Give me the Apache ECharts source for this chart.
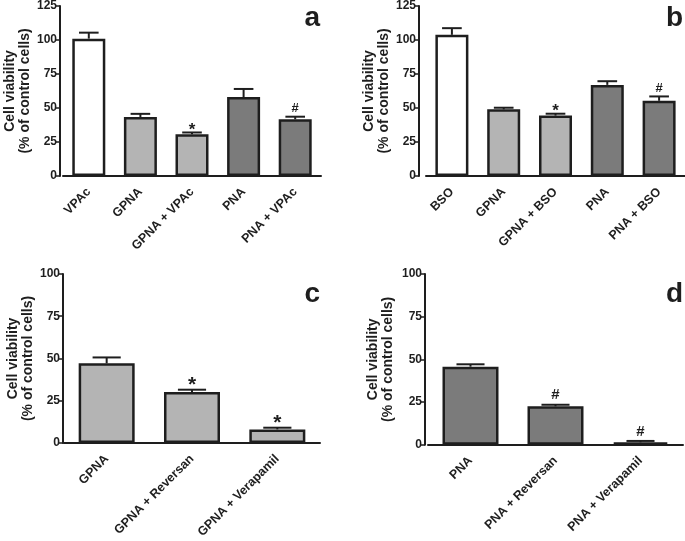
<!DOCTYPE html>
<html>
<head>
<meta charset="utf-8">
<script src="https://cdn.jsdelivr.net/npm/echarts@6/dist/echarts.min.js"></script>
<style>
html,body{margin:0;padding:0;background:#fff;}
#chart{width:685px;height:541px;}
</style>
</head>
<body>
<div id="chart"></div>
<script>
// ---- DATA ----
var catsA = ['VPAc', 'GPNA', 'GPNA + VPAc', 'PNA', 'PNA + VPAc'];
var valsA = [101, 43.4, 30.7, 58, 41.7];
var errA  = [4.4, 2.3, 1.3, 6, 1.9];
var markA = ['', '', '*', '', '#'];

var catsB = ['BSO', 'GPNA', 'GPNA + BSO', 'PNA', 'PNA + BSO'];
var valsB = [103.8, 49, 44.4, 67, 55.3];
var errB  = [4.9, 1.2, 1.4, 2.7, 3.2];
var markB = ['', '', '*', '', '#'];

var catsC = ['GPNA', 'GPNA + Reversan', 'GPNA + Verapamil'];
var valsC = [47.1, 30.1, 8.0];
var errC  = [3.5, 1.4, 1.0];
var markC = ['', '*', '*'];

var catsD = ['PNA', 'PNA + Reversan', 'PNA + Verapamil'];
var valsD = [45.7, 22.5, 1.4];
var errD  = [1.4, 0.9, 0.8];
var markD = ['', '#', '#'];

var yTicksAB = [0, 25, 50, 75, 100, 125];
var yTicksCD = [0, 25, 50, 75, 100];

// ---- STYLE ----
var WHITE = '#ffffff', LIGHT = '#b4b4b4', DARK = '#7b7b7b';
var colorsA = [WHITE, LIGHT, LIGHT, DARK, DARK];
var colorsB = [WHITE, LIGHT, LIGHT, DARK, DARK];
var colorsC = [LIGHT, LIGHT, LIGHT];
var colorsD = [DARK, DARK, DARK];
var FONT = "'Liberation Sans', Arial, sans-serif";
var INK = '#1e1e1e';

var chart = echarts.init(document.getElementById('chart'), null, {renderer: 'canvas'});

var grids = [
  {left: 63, top: 5, width: 258, height: 171},
  {left: 426, top: 5, width: 259, height: 171},
  {left: 64, top: 274, width: 256, height: 170.7},
  {left: 428, top: 274, width: 255, height: 170.7}
];
var yOffsets = [3, 7, 1, 3];
var nameGaps = [22, 22, 25, 29];
var panels = [
  {cats: catsA, vals: valsA, err: errA, mark: markA, colors: colorsA, max: 125, ticks: yTicksAB, barW: 33, cap: 0.19, markSize: [17, 13]},
  {cats: catsB, vals: valsB, err: errB, mark: markB, colors: colorsB, max: 125, ticks: yTicksAB, barW: 33, cap: 0.19, markSize: [17, 13]},
  {cats: catsC, vals: valsC, err: errC, mark: markC, colors: colorsC, max: 100, ticks: yTicksCD, barW: 56, cap: 0.165, markSize: [21, 15]},
  {cats: catsD, vals: valsD, err: errD, mark: markD, colors: colorsD, max: 100, ticks: yTicksCD, barW: 56, cap: 0.165, markSize: [21, 15]}
];

var xAxes = [], yAxes = [], series = [];
panels.forEach(function (p, i) {
  xAxes.push({
    type: 'category', gridIndex: i, data: p.cats,
    axisLine: {lineStyle: {color: INK, width: 2}},
    axisTick: {alignWithLabel: true, length: 6, lineStyle: {color: INK, width: 1.5}},
    axisLabel: {rotate: 45, margin: 14, color: INK, fontFamily: FONT, fontWeight: 'bold', fontSize: 12.5, interval: 0}
  });
  yAxes.push({
    type: 'value', gridIndex: i, min: 0, max: p.max, interval: 25, offset: yOffsets[i],
    splitLine: {show: false},
    axisLine: {show: true, lineStyle: {color: INK, width: 2}},
    axisTick: {show: true, length: 4, lineStyle: {color: INK, width: 1.5}},
    axisLabel: {color: INK, fontFamily: FONT, fontWeight: 'bold', fontSize: 12, margin: 3},
    name: 'Cell viability\n(% of control cells)',
    nameLocation: 'middle', nameRotate: 90, nameGap: nameGaps[i],
    nameTextStyle: {color: INK, fontFamily: FONT, fontWeight: 'bold', fontSize: 14, lineHeight: 15}
  });
  series.push({
    type: 'bar', xAxisIndex: i, yAxisIndex: i, barWidth: p.barW,
    data: p.vals.map(function (v, k) {
      return {value: v, itemStyle: {color: p.colors[k]}};
    }),
    itemStyle: {borderColor: INK, borderWidth: 2.5},
    silent: true, animation: false
  });
  series.push({
    type: 'custom', xAxisIndex: i, yAxisIndex: i, z: 5, animation: false, silent: true,
    data: p.vals.map(function (v, k) { return [k, v, v + p.err[k]]; }),
    renderItem: function (params, api) {
      var k = api.value(0);
      var base = api.coord([k, api.value(1)]);
      var top = api.coord([k, api.value(2)]);
      var band = api.size([1, 0])[0];
      var half = band * p.cap;
      var children = [
        {type: 'line', shape: {x1: base[0], y1: base[1], x2: top[0], y2: top[1]}, style: {stroke: INK, lineWidth: 2}},
        {type: 'line', shape: {x1: top[0] - half, y1: top[1], x2: top[0] + half, y2: top[1]}, style: {stroke: INK, lineWidth: 2}}
      ];
      var m = p.mark[params.dataIndex];
      if (m) {
        var isStar = m === '*';
        children.push({
          type: 'text',
          style: {
            text: m, x: top[0], y: isStar ? top[1] + 6 : top[1] - 2,
            textAlign: 'center', textVerticalAlign: 'bottom',
            fill: INK, font: 'bold ' + (isStar ? p.markSize[0] : p.markSize[1]) + 'px ' + FONT
          }
        });
      }
      return {type: 'group', children: children};
    }
  });
});

var letters = [['a', 320, 18], ['b', 683, 18], ['c', 320, 294], ['d', 683, 294]];
chart.setOption({
  animation: false,
  backgroundColor: '#ffffff',
  grid: grids,
  xAxis: xAxes,
  yAxis: yAxes,
  series: series,
  graphic: letters.map(function (l) {
    return {type: 'text', x: l[1], y: l[2], style: {text: l[0], textAlign: 'right', textVerticalAlign: 'middle', fill: INK, font: 'bold 28px ' + FONT}};
  })
});
</script>
</body>
</html>
